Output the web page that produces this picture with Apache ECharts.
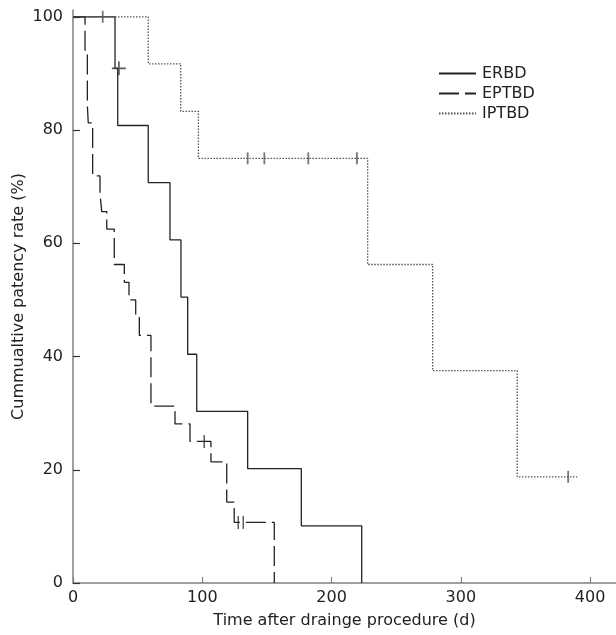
<!DOCTYPE html>
<html>
<head>
<meta charset="utf-8">
<script src="https://cdn.jsdelivr.net/npm/echarts@6/dist/echarts.min.js"></script>
<style>
html,body{margin:0;padding:0;background:#fff;}
#chart{width:616px;height:635px;}
</style>
</head>
<body>
<div id="chart"></div>
<script>
// ---- data ----
const seriesNames = ['ERBD', 'EPTBD', 'IPTBD'];

const erbdTime = [0, 32.5, 34.6, 58.2, 75, 83.5, 88.7, 95.7, 135.1, 176.6, 223.3];
const erbdSurv = [100, 90.9, 80.8, 70.7, 60.6, 50.5, 40.4, 30.3, 20.2, 10.1, 0];
const erbdCensTime = [35.5];
const erbdCensSurv = [90.9];

const eptbdTime = [0, 9.3, 11.1, 11.8, 15.2, 20.9, 22.2, 26.1, 31.9, 39.7, 43.3, 48.5, 51.3, 60.3, 78.9, 90.5, 106.7, 118.9, 124.7, 155.7];
const eptbdSurv = [100, 93.75, 84.4, 81.25, 71.9, 68.75, 65.6, 62.5, 56.25, 53.1, 50, 46.9, 43.75, 31.25, 28.1, 25, 21.4, 14.3, 10.7, 0];
const eptbdCensTime = [101.5, 127.8, 131.7];
const eptbdCensSurv = [25, 10.7, 10.7];

const iptbdTime = [0, 58.2, 83.3, 97, 227.9, 278.2, 343.6, 390];
const iptbdSurv = [100, 91.7, 83.3, 75, 56.25, 37.5, 18.75, 18.75];
const iptbdCensTime = [23, 135.1, 148, 182, 219.6, 383];
const iptbdCensSurv = [100, 75, 75, 75, 75, 18.75];

const xTicks = [0, 100, 200, 300, 400];
const yTicks = [0, 20, 40, 60, 80, 100];

// ---- helpers ----
const zip = (a, b) => a.map((v, i) => [v, b[i]]);
const FONT = 'DejaVu Sans';
const TXT = '#222';
const AX = '#808080';

const chart = echarts.init(document.getElementById('chart'), null, {renderer: 'canvas'});

const crossPath = 'path://M4.4,0h1.2v4.4h4.4v1.2h-4.4v4.4h-1.2v-4.4h-4.4v-1.2h4.4z';

const option = {
  animation: false,
  backgroundColor: '#fff',
  textStyle: {fontFamily: FONT},
  grid: {left: 73, right: 0, top: 10, bottom: 52, containLabel: false, outerBoundsMode: 'none'},
  legend: {
    data: seriesNames,
    orient: 'vertical',
    left: 433,
    top: 60,
    itemWidth: 37,
    itemHeight: 14,
    itemGap: 3,
    selectedMode: false,
    itemStyle: {opacity: 0},
    textStyle: {fontFamily: FONT, fontSize: 16, color: TXT, padding: [0, 0, 0, 1], lineHeight: 17}
  },
  xAxis: {
    type: 'value',
    min: 0,
    max: 420,
    name: 'Time after drainge procedure (d)',
    nameLocation: 'middle',
    nameGap: 30,
    nameMoveOverlap: false,
    nameTextStyle: {fontFamily: FONT, fontSize: 16, color: TXT},
    axisLine: {show: true, lineStyle: {color: AX, width: 1.5}},
    axisTick: {show: true, inside: true, length: 6, lineStyle: {color: AX, width: 1.2}, customValues: xTicks},
    axisLabel: {fontFamily: FONT, fontSize: 16, color: TXT, margin: 7, customValues: xTicks},
    splitLine: {show: false}
  },
  yAxis: {
    type: 'value',
    min: 0,
    max: 101.2,
    name: 'Cummualtive patency rate (%)',
    nameLocation: 'middle',
    nameGap: 46,
    nameMoveOverlap: false,
    nameTextStyle: {fontFamily: FONT, fontSize: 16, color: TXT},
    axisLine: {show: true, lineStyle: {color: AX, width: 1.5}},
    axisTick: {show: true, inside: true, length: 7, lineStyle: {color: '#333', width: 1.2}, customValues: yTicks},
    axisLabel: {fontFamily: FONT, fontSize: 16, color: TXT, margin: 10, customValues: yTicks},
    splitLine: {show: false}
  },
  series: [
    {
      name: 'ERBD', type: 'line', step: 'end', symbol: 'none',
      data: zip(erbdTime, erbdSurv),
      lineStyle: {color: '#222', width: 1.3, type: 'solid'},
      itemStyle: {color: '#222'}
    },
    {
      name: 'EPTBD', type: 'line', step: 'end', symbol: 'none',
      data: zip(eptbdTime, eptbdSurv),
      lineStyle: {color: '#222', width: 1.3, type: [20, 6]},
      itemStyle: {color: '#222'}
    },
    {
      name: 'IPTBD', type: 'line', step: 'end', symbol: 'none',
      data: zip(iptbdTime, iptbdSurv),
      lineStyle: {color: '#555', width: 1.3, type: [1.5, 1.5]},
      itemStyle: {color: '#555'}
    },
    {
      name: 'ERBD censored', type: 'scatter', symbol: crossPath, symbolSize: [14, 14],
      data: zip(erbdCensTime, erbdCensSurv),
      itemStyle: {color: '#333'}, z: 5
    },
    {
      name: 'EPTBD censored', type: 'scatter', symbol: 'rect', symbolSize: [1.5, 13],
      data: zip(eptbdCensTime, eptbdCensSurv),
      itemStyle: {color: '#333'}, z: 5
    },
    {
      name: 'IPTBD censored', type: 'scatter', symbol: 'rect', symbolSize: [1.8, 12],
      data: zip(iptbdCensTime, iptbdCensSurv),
      itemStyle: {color: '#555'}, z: 5
    }
  ]
};
chart.setOption(option);
</script>
</body>
</html>
